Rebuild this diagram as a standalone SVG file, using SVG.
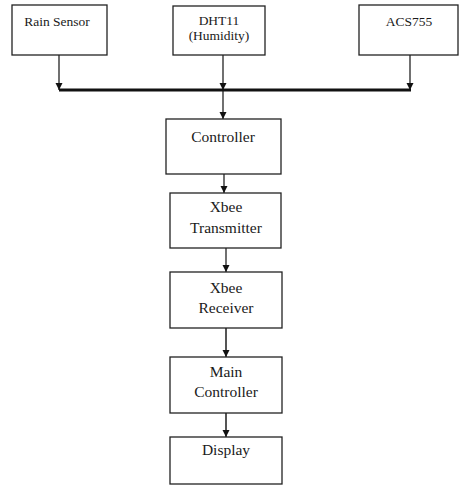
<svg xmlns="http://www.w3.org/2000/svg" width="464" height="485" viewBox="0 0 464 485">
<defs>
<style>
.box{fill:#fff;stroke:#222;stroke-width:1.3}
.t{font-family:"Liberation Serif","Times New Roman",serif;fill:#1a1a1a;text-anchor:middle}
.s{font-size:13.5px}
.m{font-size:15.5px}
.c{fill:none;stroke:#111;stroke-width:1.2}
.g{fill:none;stroke:#555;stroke-width:2}
</style>
<marker id="ah" markerWidth="8" markerHeight="8" refX="7" refY="4" orient="auto" markerUnits="userSpaceOnUse">
<path d="M0,0.5 L7,4 L0,7.5 Z" fill="#111"/>
</marker>
</defs>
<rect width="464" height="485" fill="#fff"/>
<g id="connectors">
<line class="c" x1="59" y1="55" x2="59" y2="90" marker-end="url(#ah)"/>
<line class="c" x1="223" y1="55" x2="223" y2="90" marker-end="url(#ah)"/>
<line class="c" x1="410" y1="55" x2="410" y2="90" marker-end="url(#ah)"/>
<line x1="59" y1="90" x2="411" y2="90" stroke="#111" stroke-width="3.2"/>
<line class="c" x1="223" y1="90" x2="223" y2="119" marker-end="url(#ah)"/>
<line class="c" x1="224" y1="174" x2="224" y2="193" marker-end="url(#ah)"/>
<line class="c" x1="226" y1="248" x2="226" y2="272" marker-end="url(#ah)"/>
<line class="g" x1="226" y1="328" x2="226" y2="357" marker-end="url(#ah)"/>
<line class="g" x1="226" y1="413" x2="226" y2="437" marker-end="url(#ah)"/>
</g>
<g id="rain-sensor">
<rect class="box" x="12" y="5" width="95" height="50"/>
<text class="t s" x="57" y="26">Rain Sensor</text>
</g>
<g id="dht11">
<rect class="box" x="173" y="6" width="92" height="49"/>
<text class="t s" x="219" y="25">DHT11</text>
<text class="t s" x="219" y="40">(Humidity)</text>
</g>
<g id="acs755">
<rect class="box" x="359" y="5" width="99" height="50"/>
<text class="t s" x="409" y="26">ACS755</text>
</g>
<g id="controller">
<rect class="box" x="166" y="119" width="115" height="55"/>
<text class="t m" x="223" y="142">Controller</text>
</g>
<g id="xbee-transmitter">
<rect class="box" x="170" y="193" width="111" height="55"/>
<text class="t m" x="226" y="212">Xbee</text>
<text class="t m" x="226" y="233">Transmitter</text>
</g>
<g id="xbee-receiver">
<rect class="box" x="170" y="272" width="112" height="56"/>
<text class="t m" x="226" y="293">Xbee</text>
<text class="t m" x="226" y="313">Receiver</text>
</g>
<g id="main-controller">
<rect class="box" x="170" y="357" width="112" height="56"/>
<text class="t m" x="226" y="377">Main</text>
<text class="t m" x="226" y="397">Controller</text>
</g>
<g id="display">
<rect class="box" x="170" y="437" width="112" height="47"/>
<text class="t m" x="226" y="455">Display</text>
</g>
</svg>
